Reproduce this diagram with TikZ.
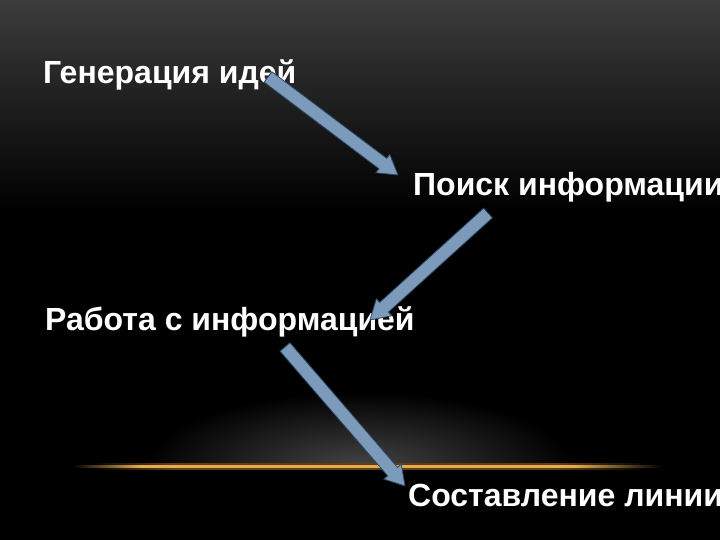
\documentclass[tikz,border=0pt]{standalone}
\usepackage{fontspec}
\setmainfont{Liberation Sans}
\usetikzlibrary{calc}
\definecolor{bgtop}{RGB}{60,60,60}
\definecolor{glowc}{RGB}{68,68,68}
\definecolor{orangec}{RGB}{228,172,80}
\definecolor{orangeglow}{RGB}{95,62,22}
\definecolor{arrfill}{RGB}{124,154,186}
\definecolor{arrline}{RGB}{45,70,100}
\pgfdeclarehorizontalshading{horizoncore}{100bp}{color(0bp)=(black); color(26bp)=(black); color(31.5bp)=(orangec); color(66.5bp)=(orangec); color(73.5bp)=(black); color(100bp)=(black)}
\pgfdeclarehorizontalshading{horizonhalo}{100bp}{color(0bp)=(black); color(27.5bp)=(black); color(34bp)=(orangeglow); color(65bp)=(orangeglow); color(72.5bp)=(black); color(100bp)=(black)}
\tikzset{
  labeltext/.style={anchor=base west, inner sep=0pt, text=white,
    font=\fontsize{32}{38}\selectfont\bfseries},
  blockarrow/.style={fill=arrfill, draw=arrline, line width=0.8pt, line join=miter}
}
\newcommand\myblockarrow[2]{%
  \filldraw[blockarrow]
    ($(#1)!6.5pt!90:(#2)$) --
    ($(#2)!19pt!(#1)!6.5pt!-90:(#1)$) --
    ($(#2)!19pt!(#1)!11.5pt!-90:(#1)$) --
    (#2) --
    ($(#2)!19pt!(#1)!11.5pt!90:(#1)$) --
    ($(#2)!19pt!(#1)!6.5pt!90:(#1)$) --
    ($(#1)!6.5pt!-90:(#2)$) -- cycle;}
\begin{document}
\begin{tikzpicture}[x=1pt,y=1pt]
\useasboundingbox (0,0) rectangle (720,540);
\clip (0,0) rectangle (720,540);
% background
\fill[black] (0,0) rectangle (720,540);
\shade[top color=bgtop, bottom color=black] (0,330) rectangle (720,540);
% glow above the horizon line
\begin{scope}
  \clip (0,73) rectangle (720,540);
  \shade[inner color=glowc, outer color=black] (360,73) ellipse (215 and 75);
\end{scope}
% horizon line
\shade[shading=horizonhalo] (60,70) rectangle (680,76.5);
\shade[shading=horizoncore] (60,72) rectangle (680,74.5);
% texts
\node[labeltext] (gen) at (43,456) {Генерация идей};
\node[labeltext] (poisk) at (413,344) {Поиск информации};
\node[labeltext] (rabota) at (45,209) {Работа с информацией};
\node[labeltext] (sost) at (408,33) {Составление линии};
% arrow end points
\coordinate (a1s) at (268,463);
\coordinate (a1e) at (398,365);
\coordinate (a2s) at (488,327);
\coordinate (a2e) at (370,220);
\coordinate (a3s) at (285,193);
\coordinate (a3e) at (405,54);
\myblockarrow{a1s}{a1e}
\myblockarrow{a2s}{a2e}
\myblockarrow{a3s}{a3e}
\end{tikzpicture}
\end{document}
